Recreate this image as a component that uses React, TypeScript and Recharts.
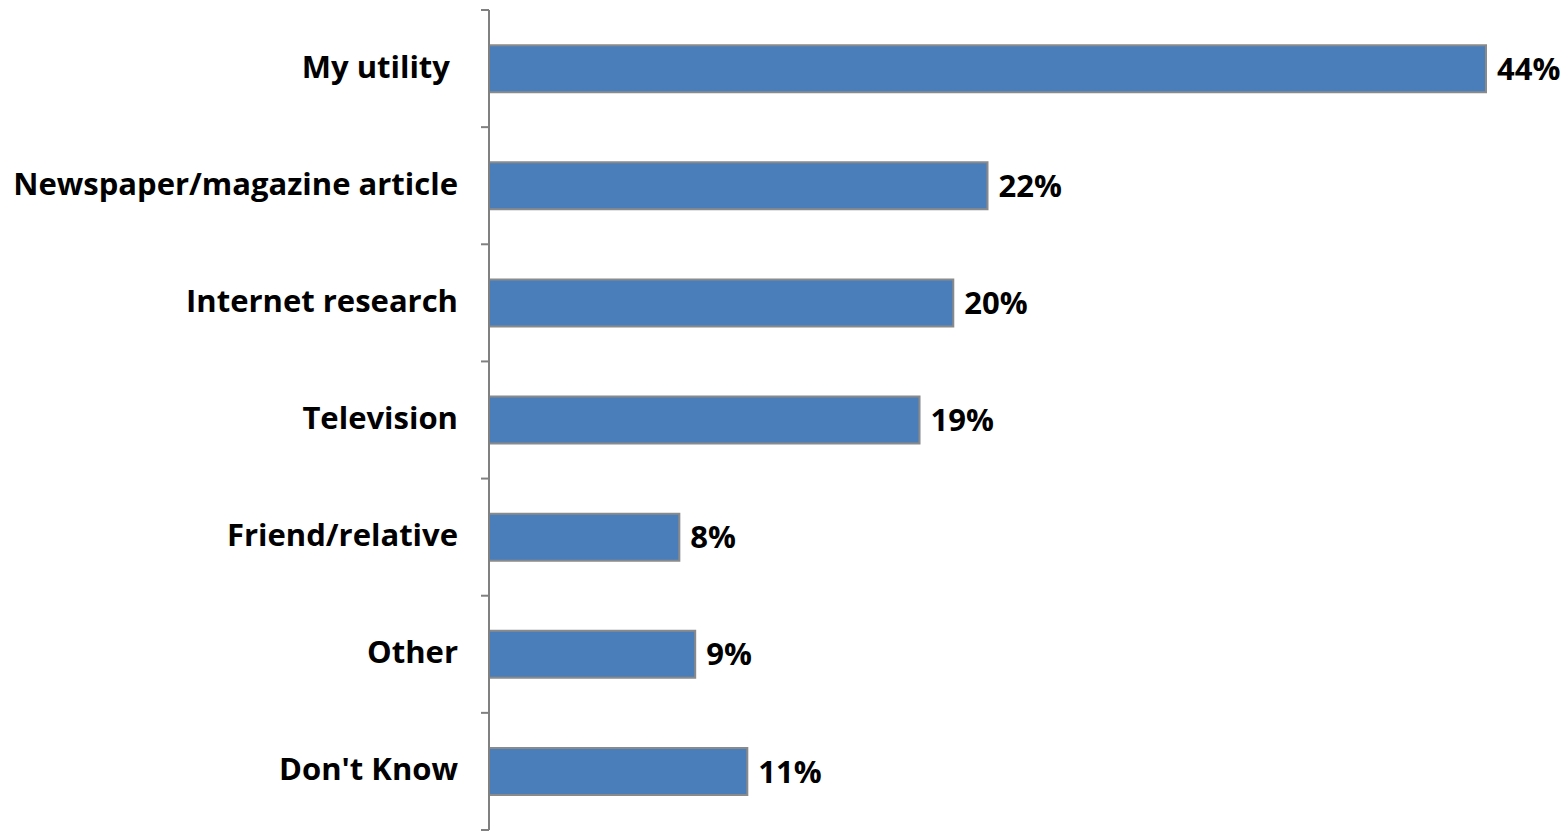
import React from "react"
import { BarChart, Bar, XAxis, YAxis, LabelList } from "recharts"

const categories = [
  "My utility\u00a0",
  "Newspaper/magazine article",
  "Internet research",
  "Television",
  "Friend/relative",
  "Other",
  "Don't Know",
]
const shares = [44, 22, 20.49, 19, 8.4, 9.1, 11.4]

const data = categories.map((name, i) => ({ name, value: shares[i] }))

const FONT = "'Open Sans', Lato, sans-serif"
const FONT_SIZE = 31
const PLOT_TOP = 10
const PLOT_BOTTOM = 830
const BAND = (PLOT_BOTTOM - PLOT_TOP) / categories.length

// ticks sit between categories, like Excel, so draw them by hand
const CategoryTick = (props: any) => {
  const { x, y, payload, index } = props
  const top = y - BAND / 2
  const last = index === categories.length - 1
  return (
    <g>
      <line x1={x + 23} x2={x + 31} y1={top} y2={top} stroke="#808080" strokeWidth={2} />
      {last && (
        <line
          x1={x + 23}
          x2={x + 31}
          y1={top + BAND}
          y2={top + BAND}
          stroke="#808080"
          strokeWidth={2}
        />
      )}
      <text
        x={x}
        y={y - 3}
        textAnchor="end"
        dominantBaseline="central"
        fill="#000"
        fontSize={FONT_SIZE}
        fontWeight={700}
        fontFamily={FONT}
      >
        {payload.value}
      </text>
    </g>
  )
}

export default function App() {
  return (
    <div style={{ position: "fixed", left: 0, top: 0, background: "#fff" }}>
      <BarChart
        width={1568}
        height={834}
        data={data}
        layout="vertical"
        margin={{ top: PLOT_TOP, right: 82, bottom: 834 - PLOT_BOTTOM, left: 0 }}
        barCategoryGap="30%"
      >
        <XAxis type="number" domain={[0, 44]} hide />
        <YAxis
          type="category"
          dataKey="name"
          width={489}
          axisLine={{ stroke: "#808080", strokeWidth: 2 }}
          tickLine={false}
          tickSize={8}
          tickMargin={23}
          interval={0}
          tick={<CategoryTick />}
        />
        <Bar
          dataKey="value"
          fill="#4a7ebb"
          stroke="#8a8a8a"
          strokeWidth={2}
          isAnimationActive={false}
        >
          <LabelList
            dataKey="value"
            position="right"
            offset={11}
            formatter={(v: number) => `${Math.round(v)}%`}
            style={{ fill: "#000", fontSize: FONT_SIZE, fontWeight: 700, fontFamily: FONT }}
          />
        </Bar>
      </BarChart>
    </div>
  )
}
